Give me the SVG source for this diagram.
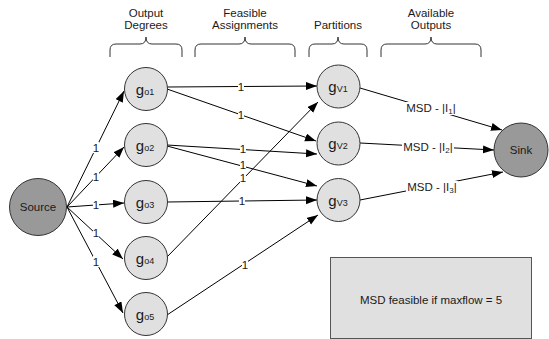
<svg xmlns="http://www.w3.org/2000/svg" width="549" height="339" viewBox="0 0 549 339">
<defs>
<marker id="arr" markerUnits="userSpaceOnUse" markerWidth="12" markerHeight="10" refX="11" refY="4" orient="auto">
<path d="M0,0 L11,4 L0,8 z" fill="#000"/>
</marker>
<style>
text{font-family:"Liberation Sans",Arial,sans-serif;font-size:11.5px;fill:#1a1a1a}
.hdr{text-anchor:middle}
.brace{fill:none;stroke:#333;stroke-width:1}
.e{stroke:#000;stroke-width:1;fill:none;marker-end:url(#arr)}
.lbl{text-anchor:middle}
.bg{fill:#fff}
.g{fill:#e0e0e0;stroke:#333;stroke-width:1}
.dark{fill:#999;stroke:#333;stroke-width:1}
.nl{text-anchor:middle;font-size:15px}
.sub{font-size:9px}
.ls{font-size:8px}
</style>
</defs>
<rect width="549" height="339" fill="#fff"/>
<g id="headers">
<text class="hdr" x="146" y="17">Output</text>
<text class="hdr" x="146" y="29">Degrees</text>
<path class="brace" d="M110,57 V50 Q110,44 116,44 H140 Q146,44 146,37 Q146,44 152,44 H176 Q182,44 182,50 V57"/>
<text class="hdr" x="245" y="17">Feasible</text>
<text class="hdr" x="245" y="29">Assignments</text>
<path class="brace" d="M195,57 V50 Q195,44 201,44 H239 Q245,44 245,37 Q245,44 251,44 H289 Q295,44 295,50 V57"/>
<text class="hdr" x="338" y="29">Partitions</text>
<path class="brace" d="M309,57 V50 Q309,44 315,44 H332 Q338,44 338,37 Q338,44 344,44 H361 Q367,44 367,50 V57"/>
<text class="hdr" x="431" y="17">Available</text>
<text class="hdr" x="431" y="29">Outputs</text>
<path class="brace" d="M381,57 V50 Q381,44 387,44 H425 Q431,44 431,37 Q431,44 437,44 H475 Q481,44 481,50 V57"/>
</g>
<g id="connectors">
<line class="e" x1="67" y1="207" x2="124" y2="91"/>
<line class="e" x1="67" y1="207" x2="124" y2="147"/>
<line class="e" x1="67" y1="207" x2="124" y2="203"/>
<line class="e" x1="67" y1="207" x2="123" y2="259"/>
<line class="e" x1="67" y1="207" x2="123" y2="313"/>
<line class="e" x1="167" y1="87" x2="317" y2="86"/>
<line class="e" x1="167" y1="89" x2="316" y2="141"/>
<line class="e" x1="167" y1="145" x2="317" y2="154"/>
<line class="e" x1="167" y1="146" x2="317" y2="186"/>
<line class="e" x1="167" y1="202" x2="317" y2="200"/>
<line class="e" x1="167" y1="257" x2="318" y2="102"/>
<line class="e" x1="167" y1="315" x2="318" y2="215"/>
<line class="e" x1="360" y1="88" x2="502" y2="130"/>
<line class="e" x1="360" y1="143" x2="494" y2="150"/>
<line class="e" x1="360" y1="200" x2="503" y2="172"/>
<rect class="bg" x="93" y="142" width="6" height="11"/><text class="lbl" x="96" y="152">1</text>
<rect class="bg" x="93" y="171" width="6" height="11"/><text class="lbl" x="96" y="181">1</text>
<rect class="bg" x="93" y="199" width="6" height="11"/><text class="lbl" x="96" y="209">1</text>
<rect class="bg" x="93" y="227" width="6" height="11"/><text class="lbl" x="96" y="237">1</text>
<rect class="bg" x="93" y="256" width="6" height="11"/><text class="lbl" x="96" y="266">1</text>
<rect class="bg" x="238" y="81" width="6" height="11"/><text class="lbl" x="241" y="91">1</text>
<rect class="bg" x="238" y="109" width="6" height="11"/><text class="lbl" x="241" y="119">1</text>
<rect class="bg" x="240" y="143" width="6" height="11"/><text class="lbl" x="243" y="153">1</text>
<rect class="bg" x="240" y="159" width="6" height="11"/><text class="lbl" x="243" y="169">1</text>
<rect class="bg" x="239" y="195" width="6" height="11"/><text class="lbl" x="242" y="205">1</text>
<rect class="bg" x="240" y="172" width="6" height="11"/><text class="lbl" x="243" y="182">1</text>
<rect class="bg" x="242" y="259" width="6" height="11"/><text class="lbl" x="245" y="269">1</text>
<rect class="bg" x="405" y="102" width="52" height="13"/><text class="lbl" x="431" y="112">MSD - |I<tspan class="ls" dy="2">1</tspan><tspan dy="-2">|</tspan></text>
<rect class="bg" x="402" y="141" width="52" height="13"/><text class="lbl" x="428" y="151">MSD - |I<tspan class="ls" dy="2">2</tspan><tspan dy="-2">|</tspan></text>
<rect class="bg" x="406" y="181" width="52" height="13"/><text class="lbl" x="432" y="191">MSD - |I<tspan class="ls" dy="2">3</tspan><tspan dy="-2">|</tspan></text>
</g>
<g id="source"><circle class="dark" cx="38" cy="207" r="28.5"/><text x="38" y="211" text-anchor="middle">Source</text></g>
<g id="go1"><circle class="g" cx="146" cy="89" r="21.5"/><text class="nl" x="145" y="94.5">g<tspan class="sub">o1</tspan></text></g>
<g id="go2"><circle class="g" cx="146" cy="145" r="21.5"/><text class="nl" x="145" y="150.5">g<tspan class="sub">o2</tspan></text></g>
<g id="go3"><circle class="g" cx="146" cy="202" r="21.5"/><text class="nl" x="145" y="207.5">g<tspan class="sub">o3</tspan></text></g>
<g id="go4"><circle class="g" cx="146" cy="258" r="21.5"/><text class="nl" x="145" y="263.5">g<tspan class="sub">o4</tspan></text></g>
<g id="go5"><circle class="g" cx="146" cy="314" r="21.5"/><text class="nl" x="145" y="319.5">g<tspan class="sub">o5</tspan></text></g>
<g id="gv1"><circle class="g" cx="338.5" cy="86.5" r="21.5"/><text class="nl" x="338" y="92">g<tspan class="sub">V1</tspan></text></g>
<g id="gv2"><circle class="g" cx="338.5" cy="143.5" r="21.5"/><text class="nl" x="338" y="149">g<tspan class="sub">V2</tspan></text></g>
<g id="gv3"><circle class="g" cx="338.5" cy="200" r="21.5"/><text class="nl" x="338" y="205.5">g<tspan class="sub">V3</tspan></text></g>
<g id="sink"><circle class="dark" cx="521" cy="150" r="27"/><text x="521" y="154" text-anchor="middle">Sink</text></g>
<g id="note"><rect x="330.5" y="257.5" width="201" height="81" fill="#e0e0e0" stroke="#555" stroke-width="1"/><text x="431" y="304" text-anchor="middle">MSD feasible if maxflow = 5</text></g>
</svg>
